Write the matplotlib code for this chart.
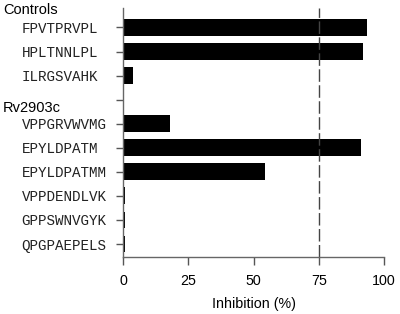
import matplotlib
matplotlib.use("Agg")
import matplotlib.pyplot as plt

# peptide rows, top to bottom ('' = spacer row between the two groups)
peptides = ["FPVTPRVPL", "HPLTNNLPL", "ILRGSVAHK", "",
            "VPPGRVWVMG", "EPYLDPATM", "EPYLDPATMM",
            "VPPDENDLVK", "GPPSWNVGYK", "QPGPAEPELS"]
inhibition = [93.5, 91.8, 3.8, 0,
              18.0, 91.2, 54.5,
              0.7, 0.7, 0.7]
group_titles = ["Controls", "Rv2903c"]
x_ticks = [0, 25, 50, 75, 100]
threshold = 75

fig = plt.figure(figsize=(4.0, 3.14), dpi=100)
ax = fig.add_axes([0.3075, 0.1815, 0.6525, 0.793])

rows = list(range(len(peptides)))
ax.barh(rows, inhibition, height=0.7, color="black")

# dashed 75% cut-off line
ax.axvline(threshold, color="#444444", lw=1.0, dashes=(9, 2.5))

ax.set_xlim(0, 100)
ax.set_ylim(9.54, -0.81)
ax.set_xticks(x_ticks)
ax.set_xticklabels([str(t) for t in x_ticks], fontsize=10.3, family="Liberation Sans")
ax.set_yticks(rows)
ax.set_yticklabels(peptides, fontsize=10.3, family="Liberation Mono", color="#222222")
for lab in ax.get_yticklabels():
    lab.set_horizontalalignment("left")
ax.tick_params(axis="y", length=5, width=1, color="#555555", pad=68)
ax.tick_params(axis="x", length=6, width=1, color="#555555", pad=6)

for side in ["top", "right"]:
    ax.spines[side].set_visible(False)
for side in ["left", "bottom"]:
    ax.spines[side].set_color("#666666")
    ax.spines[side].set_linewidth(1.0)

ax.set_xlabel("Inhibition (%)", fontsize=10.3, family="Liberation Sans", labelpad=7)

# group headers
fig.text(3 / 400, 1 - 10 / 314, group_titles[0], fontsize=10.5,
         family="Liberation Sans", va="center", ha="left")
fig.text(3 / 400, 1 - 108 / 314, group_titles[1], fontsize=10.5,
         family="Liberation Sans", va="center", ha="left")

fig.savefig("out.png", dpi=100)
